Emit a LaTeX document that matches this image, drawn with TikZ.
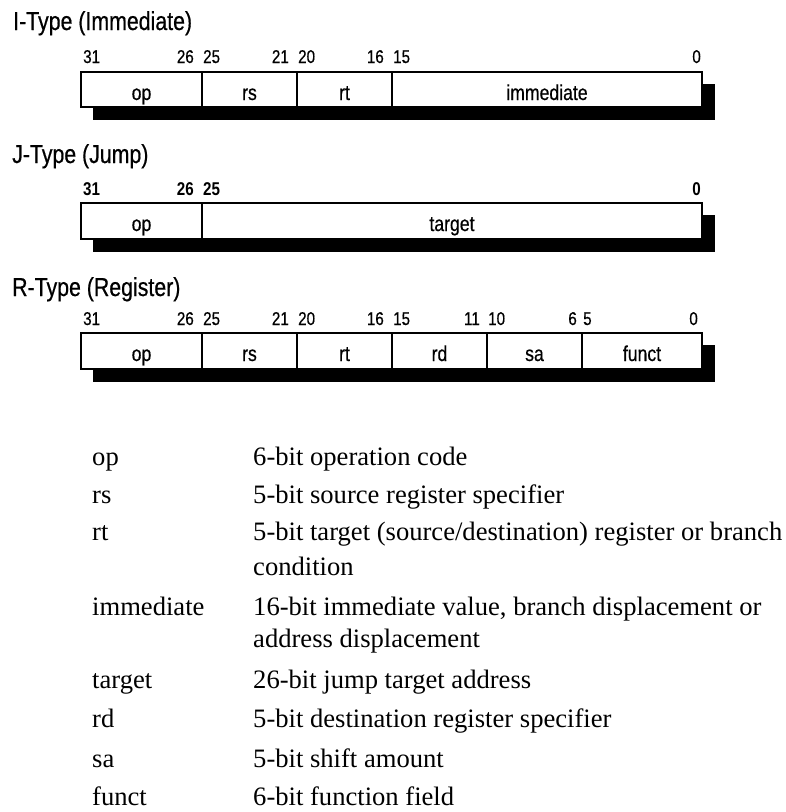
\documentclass[tikz,border=0pt]{standalone}
\usepackage{fontspec}
\setmainfont{Liberation Serif}
\newfontfamily\narrow[FakeStretch=0.82,FakeBold=0.5]{Liberation Sans}
\newfontfamily\narrowbold[FakeStretch=0.82]{Liberation Sans Bold}
\tikzset{
  titletxt/.style={anchor=base west, inner sep=0pt, font=\narrow\fontsize{26}{30}\selectfont},
  bitnum/.style={inner sep=0pt, font=\narrow\fontsize{18.5}{22}\selectfont},
  bitnumb/.style={inner sep=0pt, font=\narrowbold\fontsize{18.5}{22}\selectfont},
  flabel/.style={anchor=base, inner sep=0pt, font=\narrow\fontsize{21.5}{25}\selectfont},
  boxline/.style={line width=1.5pt},
  shadowbox/.style={fill=black},
  term/.style={anchor=base west, inner sep=0pt, font=\fontsize{26.6}{30}\selectfont},
}
\begin{document}
\begin{tikzpicture}[x=1pt,y=-1pt]
\useasboundingbox[fill=white] (0,0) rectangle (786,812);

% ---------------- I-Type ----------------
\node[titletxt] (ititle) at (13,30) {I-Type (Immediate)};
\node[bitnum,anchor=base west] (i31) at (83,63) {31};
\node[bitnum,anchor=base east] (i26) at (194,63) {26};
\node[bitnum,anchor=base west] (i25) at (203,63) {25};
\node[bitnum,anchor=base east] (i21) at (289,63) {21};
\node[bitnum,anchor=base west] (i20) at (298,63) {20};
\node[bitnum,anchor=base east] (i16) at (384,63) {16};
\node[bitnum,anchor=base west] (i15) at (393,63) {15};
\node[bitnum,anchor=base east] (i0) at (701,63) {0};
\fill[shadowbox] (93,84) rectangle (715,120);
\draw[boxline,fill=white] (81,72) rectangle (702,107);
\draw[boxline] (202,72) -- (202,107);
\draw[boxline] (297,72) -- (297,107);
\draw[boxline] (392,72) -- (392,107);
\node[flabel] (iop) at (141.5,100) {op};
\node[flabel] (irs) at (249.5,100) {rs};
\node[flabel] (irt) at (344.5,100) {rt};
\node[flabel] (iimm) at (547,100) {immediate};

% ---------------- J-Type ----------------
\node[titletxt] (jtitle) at (12,163) {J-Type (Jump)};
\node[bitnumb,anchor=base west] (j31) at (83,195) {31};
\node[bitnumb,anchor=base east] (j26) at (194,195) {26};
\node[bitnumb,anchor=base west] (j25) at (203,195) {25};
\node[bitnumb,anchor=base east] (j0) at (701,195) {0};
\fill[shadowbox] (93,215) rectangle (715,252);
\draw[boxline,fill=white] (81,203) rectangle (702,239);
\draw[boxline] (202,203) -- (202,239);
\node[flabel] (jop) at (141.5,231) {op};
\node[flabel] (jtarget) at (452,231) {target};

% ---------------- R-Type ----------------
\node[titletxt] (rtitle) at (12,296) {R-Type (Register)};
\node[bitnum,anchor=base west] (r31) at (83,325) {31};
\node[bitnum,anchor=base east] (r26) at (194,325) {26};
\node[bitnum,anchor=base west] (r25) at (203,325) {25};
\node[bitnum,anchor=base east] (r21) at (289,325) {21};
\node[bitnum,anchor=base west] (r20) at (298,325) {20};
\node[bitnum,anchor=base east] (r16) at (384,325) {16};
\node[bitnum,anchor=base west] (r15) at (393,325) {15};
\node[bitnum,anchor=base east] (r11) at (480,325) {11};
\node[bitnum,anchor=base west] (r10) at (488,325) {10};
\node[bitnum,anchor=base east] (r6) at (577,325) {6};
\node[bitnum,anchor=base west] (r5) at (583,325) {5};
\node[bitnum,anchor=base east] (r0) at (698,325) {0};
\fill[shadowbox] (93,345) rectangle (715,382);
\draw[boxline,fill=white] (81,333) rectangle (702,369);
\draw[boxline] (202,333) -- (202,369);
\draw[boxline] (297,333) -- (297,369);
\draw[boxline] (392,333) -- (392,369);
\draw[boxline] (487,333) -- (487,369);
\draw[boxline] (582,333) -- (582,369);
\node[flabel] (rop) at (141.5,361) {op};
\node[flabel] (rrs) at (249.5,361) {rs};
\node[flabel] (rrt) at (344.5,361) {rt};
\node[flabel] (rrd) at (439.5,361) {rd};
\node[flabel] (rsa) at (534.5,361) {sa};
\node[flabel] (rfunct) at (642,361) {funct};

% ---------------- Legend ----------------
\node[term] (kop) at (92,465) {op};
\node[term] (dop) at (253,465) {6-bit operation code};
\node[term] (krs) at (92,503) {rs};
\node[term] (drs) at (253,503) {5-bit source register specifier};
\node[term] (krt) at (92,540) {rt};
\node[term] (drt) at (253,540) {5-bit target (source/destination) register or branch};
\node[term] (drt2) at (253,575) {condition};
\node[term] (kimm) at (92,615) {immediate};
\node[term] (dimm) at (253,615) {16-bit immediate value, branch displacement or};
\node[term] (dimm2) at (253,647) {address displacement};
\node[term] (ktarget) at (92,688) {target};
\node[term] (dtarget) at (253,688) {26-bit jump target address};
\node[term] (krd) at (92,727) {rd};
\node[term] (drd) at (253,727) {5-bit destination register specifier};
\node[term] (ksa) at (92,767) {sa};
\node[term] (dsa) at (253,767) {5-bit shift amount};
\node[term] (kfunct) at (92,805) {funct};
\node[term] (dfunct) at (253,805) {6-bit function field};
\end{tikzpicture}
\end{document}
